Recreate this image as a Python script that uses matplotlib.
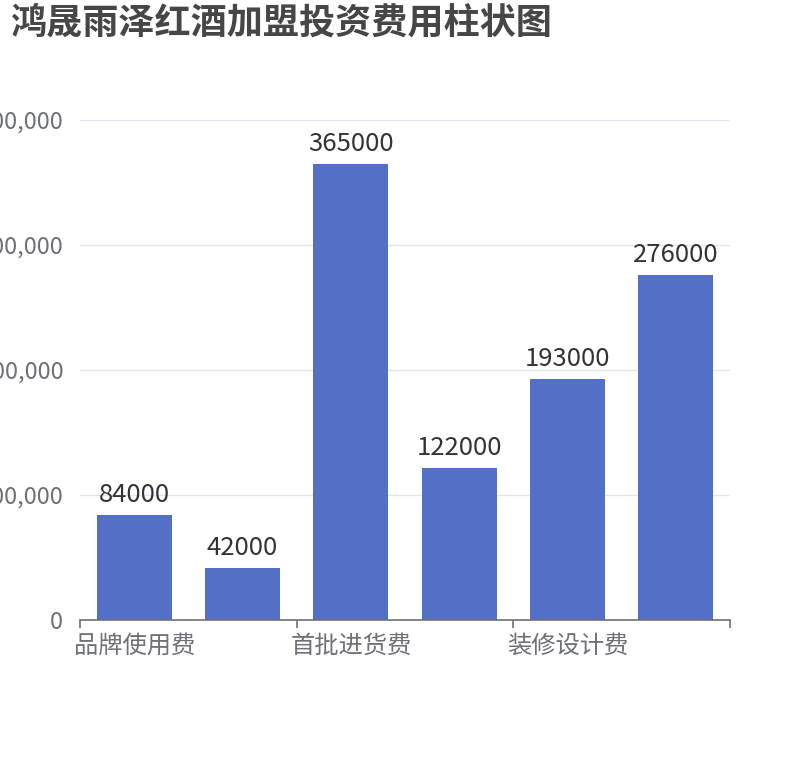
import matplotlib
matplotlib.use("Agg")
import matplotlib.pyplot as plt
from matplotlib.ticker import FuncFormatter, FixedLocator

plt.rcParams['font.family'] = ['Noto Sans CJK SC', 'DejaVu Sans']

title = "鸿晟雨泽红酒加盟投资费用柱状图"
categories = ["品牌使用费", "加盟保证金", "首批进货费", "设备购置费", "装修设计费", "流动资金"]
values = [84000, 42000, 365000, 122000, 193000, 276000]
y_ticks = [0, 100000, 200000, 300000, 400000]

bar_color = "#5470c6"
axis_color = "#6e7079"
grid_color = "#e0e6f1"

fig = plt.figure(figsize=(8.1, 7.6), dpi=100)
ax = fig.add_axes([80/810, 1-620/760, 650/810, 500/760])

x = list(range(len(categories)))
bars = ax.bar(x, values, width=0.69, color=bar_color, zorder=3)

for xi, v in zip(x, values):
    ax.annotate(str(v), (xi, v), xytext=(0, 5), textcoords="offset points",
                ha="center", va="bottom", fontsize=18.5, color="#333333")

ax.set_xlim(-0.5, len(categories) - 0.5)
ax.set_ylim(0, 400000)
ax.set_yticks(y_ticks)
ax.yaxis.set_major_formatter(FuncFormatter(lambda v, p: f"{int(v):,}"))
ax.tick_params(axis="y", length=0, labelsize=17, labelcolor=axis_color, pad=12)
ax.grid(axis="y", color=grid_color, linewidth=1, zorder=0)

# ticks at category boundaries, labels on every other category
ax.xaxis.set_major_locator(FixedLocator([i - 0.5 for i in range(0, len(categories) + 1, 2)]))
ax.xaxis.set_major_formatter(FuncFormatter(lambda v, p: ""))
ax.xaxis.set_minor_locator(FixedLocator(x[::2]))
ax.set_xticklabels([c for c in categories[::2]], minor=True)
ax.tick_params(axis="x", which="major", length=6, width=1.2, color=axis_color)
ax.tick_params(axis="x", which="minor", length=0, labelsize=17.5, labelcolor=axis_color, pad=9)

for s in ["top", "right", "left"]:
    ax.spines[s].set_visible(False)
ax.spines["bottom"].set_color(axis_color)
ax.spines["bottom"].set_linewidth(1.2)
ax.spines["bottom"].set_zorder(4)

fig.text(10/810, 1-5/760, title, ha="left", va="top", fontsize=26,
         fontweight="bold", color="#464646")

fig.savefig("out.png", dpi=100)
